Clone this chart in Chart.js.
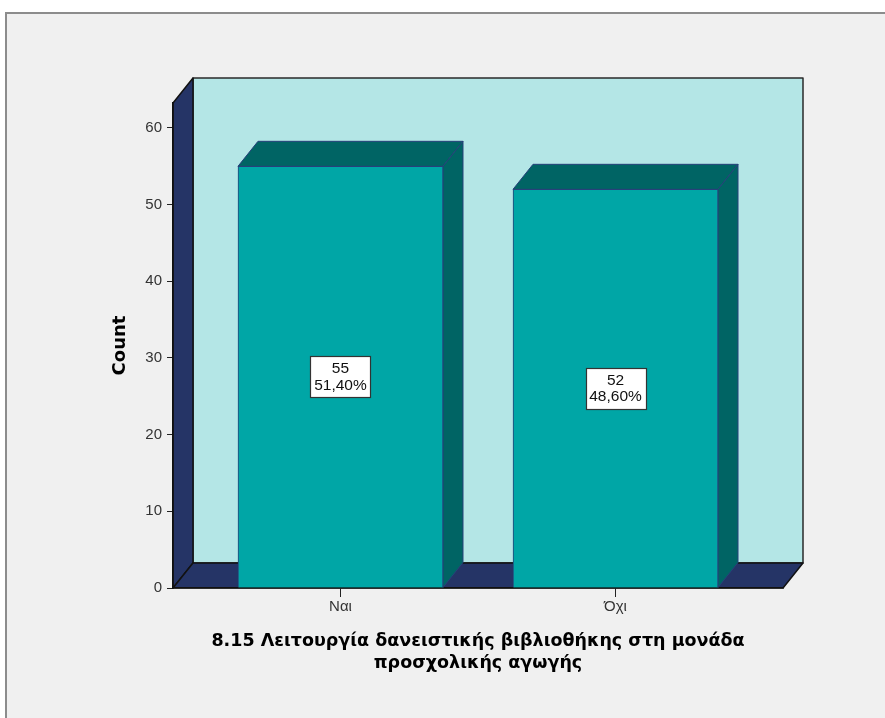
<!DOCTYPE html>
<html>
<head>
<meta charset="utf-8">
<script src="https://cdn.jsdelivr.net/npm/chart.js@4.4.1/dist/chart.umd.min.js"></script>
<style>
  html, body { margin: 0; padding: 0; background: #ffffff; }
  #marco {
    position: absolute; left: 5px; top: 12px; right: -10px; bottom: -10px;
    background: #f0f0f0;
    border-left: 2px solid #8c8c8c;
    border-top: 2px solid #8c8c8c;
  }
  #lienzo { position: absolute; left: 0; top: 0; }
</style>
</head>
<body>
<div id="marco"></div>
<canvas id="lienzo" width="885" height="718"></canvas>
<script>
// Datos del gráfico
const categorias = ['Ναι', 'Όχι'];
const frecuencias = [55, 52];
const tituloX = ['8.15 Λειτουργία δανειστικής βιβλιοθήκης στη μονάδα', 'προσχολικής αγωγής'];
const tituloY = 'Count';

// Colores estilo SPSS
const colorPared = '#b4e6e6';
const colorLateral = '#253466';
const colorBarra = '#00a6a6';
const colorBarraSombra = '#006464';
const colorBordeBarra = '#27407a';

// Profundidad del efecto 3D
const prof = { dx: 20, dy: -25 };

const total = frecuencias.reduce((a, b) => a + b, 0);
const porcentajes = frecuencias.map(v => (v / total * 100).toFixed(2).replace('.', ',') + '%');

function poligono(ctx, pts, relleno, borde, ancho) {
    ctx.beginPath();
    ctx.moveTo(pts[0][0], pts[0][1]);
    for (let i = 1; i < pts.length; i++) ctx.lineTo(pts[i][0], pts[i][1]);
    ctx.closePath();
    ctx.fillStyle = relleno;
    ctx.fill();
    ctx.strokeStyle = borde;
    ctx.lineWidth = ancho;
    ctx.stroke();
}

// Caja 3D: pared del fondo, pared izquierda y piso
const caja3D = {
    id: 'caja3D',
    beforeDraw(chart) {
        const { ctx, chartArea: a } = chart;
        const { dx, dy } = prof;
        ctx.save();
        ctx.lineJoin = 'round';
        poligono(ctx, [[a.left + dx, a.top + dy], [a.right + dx, a.top + dy], [a.right + dx, a.bottom + dy], [a.left + dx, a.bottom + dy]], colorPared, '#2a2a2a', 1.5);
        poligono(ctx, [[a.left, a.top], [a.left + dx, a.top + dy], [a.left + dx, a.bottom + dy], [a.left, a.bottom]], colorLateral, '#111111', 1.5);
        poligono(ctx, [[a.left, a.bottom], [a.left + dx, a.bottom + dy], [a.right + dx, a.bottom + dy], [a.right, a.bottom]], colorLateral, '#111111', 1.5);
        ctx.restore();
    }
};

// Caras superior y lateral de cada barra
const barras3D = {
    id: 'barras3D',
    beforeDatasetsDraw(chart) {
        const { ctx } = chart;
        const { dx, dy } = prof;
        ctx.save();
        chart.getDatasetMeta(0).data.forEach(b => {
            const x0 = b.x - b.width / 2, x1 = b.x + b.width / 2;
            poligono(ctx, [[x0, b.y], [x0 + dx, b.y + dy], [x1 + dx, b.y + dy], [x1, b.y]], colorBarraSombra, colorBordeBarra, 1);
            poligono(ctx, [[x1, b.y], [x1 + dx, b.y + dy], [x1 + dx, b.base + dy], [x1, b.base]], colorBarraSombra, colorBordeBarra, 1);
        });
        ctx.restore();
    },
    // Etiquetas con frecuencia y porcentaje
    afterDatasetsDraw(chart) {
        const { ctx } = chart;
        ctx.save();
        ctx.font = '15.5px "Liberation Sans", Arial, sans-serif';
        ctx.textAlign = 'center';
        ctx.textBaseline = 'middle';
        chart.getDatasetMeta(0).data.forEach((b, i) => {
            const lineas = [String(frecuencias[i]), porcentajes[i]];
            const w = Math.round(Math.max(...lineas.map(t => ctx.measureText(t).width)) + 7);
            const h = 41;
            const cy = (b.y + b.base) / 2;
            const bx = Math.round(b.x - w / 2) + 0.5, by = Math.round(cy - h / 2) + 0.5;
            ctx.fillStyle = '#ffffff';
            ctx.fillRect(bx, by, w, h);
            ctx.strokeStyle = '#333333';
            ctx.lineWidth = 1.2;
            ctx.strokeRect(bx, by, w, h);
            ctx.fillStyle = '#111111';
            ctx.fillText(lineas[0], b.x, cy - 8);
            ctx.fillText(lineas[1], b.x, cy + 8.5);
        });
        ctx.restore();
    }
};

Chart.defaults.font.family = '"Liberation Sans", Arial, sans-serif';
Chart.defaults.color = '#333333';

const ctx = document.getElementById('lienzo').getContext('2d');
new Chart(ctx, {
    type: 'bar',
    data: {
        datasets: [{
            data: frecuencias.map((v, i) => ({ x: i, y: v })),
            backgroundColor: colorBarra,
            borderColor: colorBordeBarra,
            borderWidth: 1,
            barThickness: 205
        }]
    },
    options: {
        responsive: false,
        animation: false,
        layout: { padding: { top: 103, right: 102, bottom: 0, left: 0 } },
        plugins: { legend: { display: false }, tooltip: { enabled: false } },
        scales: {
            x: {
                type: 'linear',
                offset: false,
                min: -0.609,
                max: 1.609,
                afterBuildTicks: s => { s.ticks = categorias.map((_, i) => ({ value: i })); },
                afterFit: s => { s.height = 130; },
                grid: { offset: false, drawOnChartArea: false, drawTicks: true, tickLength: 9, color: '#222222' },
                border: { display: true, color: '#111111', width: 1.5 },
                ticks: {
                    callback: v => categorias[v],
                    font: { size: 15 },
                    color: '#333333',
                    padding: 1,
                    maxRotation: 0
                },
                title: {
                    display: true,
                    text: tituloX,
                    font: { family: '"DejaVu Sans", Verdana, sans-serif', size: 17.5, weight: 'bold', lineHeight: '22px' },
                    color: '#000000',
                    padding: { top: 0, bottom: 44 }
                }
            },
            y: {
                min: 0,
                max: 63.26,
                afterFit: s => { s.width = 173; },
                grid: { drawOnChartArea: false, drawTicks: true, tickLength: 6, color: '#222222' },
                border: { display: true, color: '#111111', width: 1.5 },
                ticks: {
                    stepSize: 10,
                    includeBounds: false,
                    font: { size: 15 },
                    color: '#333333',
                    padding: 5
                },
                title: {
                    display: true,
                    text: tituloY,
                    font: { family: '"DejaVu Sans", Verdana, sans-serif', size: 18, weight: 'bold', lineHeight: '20px' },
                    color: '#000000',
                    padding: { top: 110, bottom: 0 }
                }
            }
        }
    },
    plugins: [caja3D, barras3D]
});
</script>
</body>
</html>
